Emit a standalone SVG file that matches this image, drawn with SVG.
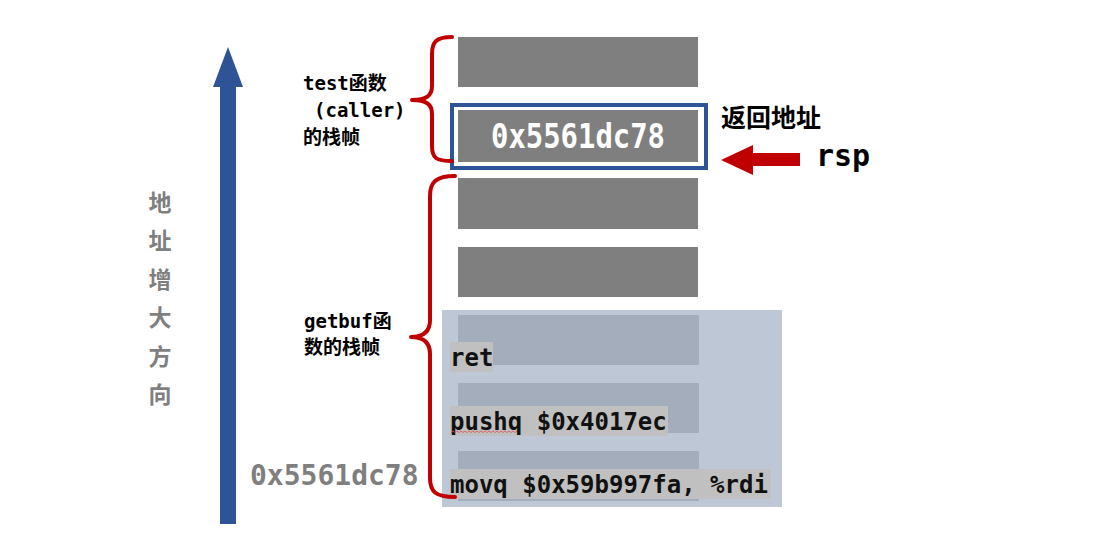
<svg xmlns="http://www.w3.org/2000/svg" width="1105" height="545" viewBox="0 0 1105 545">
<style>
.cell{fill:#7f7f7f}
.cellb{fill:#a3adbb}
.brace{fill:none;stroke:#c00000;stroke-width:4;stroke-linecap:round;stroke-linejoin:round}
.lbl{font-family:"DejaVu Sans Mono","Noto Sans CJK SC",monospace;font-weight:bold;font-size:19px;fill:#000}
.code{font-family:"DejaVu Sans Mono","Liberation Mono",monospace;font-weight:bold;font-size:24px;fill:#111}
.codebg{fill:#c0c0c0}
.vert{font-family:"Noto Sans CJK SC",sans-serif;font-weight:bold;font-size:23px;fill:#7f7f7f;text-anchor:middle}
</style>
<rect width="1105" height="545" fill="#fff"/>
<g id="axis">
<rect x="220" y="86" width="16" height="438" fill="#2f5496"/>
<polygon points="228,47 243,87 213,87" fill="#2f5496"/>
<text class="vert" x="160" y="211">地</text>
<text class="vert" x="160" y="249">址</text>
<text class="vert" x="160" y="288">增</text>
<text class="vert" x="160" y="326">大</text>
<text class="vert" x="160" y="365">方</text>
<text class="vert" x="160" y="403">向</text>
</g>
<g id="stack-test">
<rect class="cell" x="458" y="37" width="240" height="50"/>
<rect x="452" y="105" width="254" height="63" fill="none" stroke="#2f5496" stroke-width="4"/>
<rect class="cell" x="458" y="110" width="240" height="52"/>
<text x="578" y="148" text-anchor="middle" font-family="DejaVu Sans Mono,monospace" font-weight="bold" font-size="33" fill="#fff" textLength="174" lengthAdjust="spacingAndGlyphs">0x5561dc78</text>
</g>
<g id="stack-getbuf">
<rect class="cell" x="458" y="178" width="240" height="51"/>
<rect class="cell" x="458" y="247" width="240" height="50"/>
</g>
<g id="inject-panel">
<rect x="442" y="310" width="340" height="197" fill="#bdc7d6"/>
<rect class="cellb" x="458" y="315" width="241" height="50"/>
<rect class="cellb" x="458" y="383" width="241" height="50"/>
<rect class="cellb" x="458" y="451" width="241" height="50"/>
<rect class="codebg" x="450" y="342" width="43" height="30"/>
<text class="code" x="450" y="366">ret</text>
<rect class="codebg" x="450" y="406" width="218" height="30"/>
<text class="code" x="450" y="430">pushq $0x4017ec</text>
<path d="M451,432.5 l2,-1.5 l2,1.5 l2,-1.5 l2,1.5 l2,-1.5 l2,1.5 l2,-1.5 l2,1.5 l2,-1.5 l2,1.5 l2,-1.5 l2,1.5 l2,-1.5 l2,1.5 l2,-1.5 l2,1.5 l2,-1.5 l2,1.5 l2,-1.5 l2,1.5 l2,-1.5 l2,1.5 l2,-1.5 l2,1.5 l2,-1.5 l2,1.5 l2,-1.5 l2,1.5 l2,-1.5 l2,1.5 l2,-1.5 l2,1.5 l2,-1.5" fill="none" stroke="#e05050" stroke-width="0.8"/>
<rect class="codebg" x="450" y="469" width="321" height="30"/>
<text class="code" x="450" y="493">movq $0x59b997fa, %rdi</text>
</g>
<g id="braces">
<path class="brace" d="M452,37 C436,37 432,42 432,54 L432,86 C432,96 426,100 412,100 C426,100 432,104 432,114 L432,146 C432,158 436,161 452,161"/>
<path class="brace" d="M455,176 C436,176 430,182 430,196 L430,320 C430,331 424,337 411,337 C424,337 430,343 430,354 L430,478 C430,492 436,497 455,497"/>
</g>
<g id="labels">
<text class="lbl" x="303" y="90">test函数</text>
<text class="lbl" x="314" y="117">(caller)</text>
<text class="lbl" x="303" y="144">的栈帧</text>
<text class="lbl" x="304" y="328">getbuf函</text>
<text class="lbl" x="304" y="354">数的栈帧</text>
<text x="250" y="485" font-family="DejaVu Sans Mono,monospace" font-weight="bold" font-size="28" fill="#7f7f7f">0x5561dc78</text>
</g>
<g id="rsp">
<text x="721" y="127" font-family="Noto Sans CJK SC,sans-serif" font-weight="bold" font-size="25" fill="#000">返回地址</text>
<polygon points="721,160 753,145 753,153 800,153 800,166 753,166 753,175" fill="#c00000"/>
<text x="816" y="166" font-family="DejaVu Sans Mono,monospace" font-weight="bold" font-size="30" fill="#000">rsp</text>
</g>
</svg>
